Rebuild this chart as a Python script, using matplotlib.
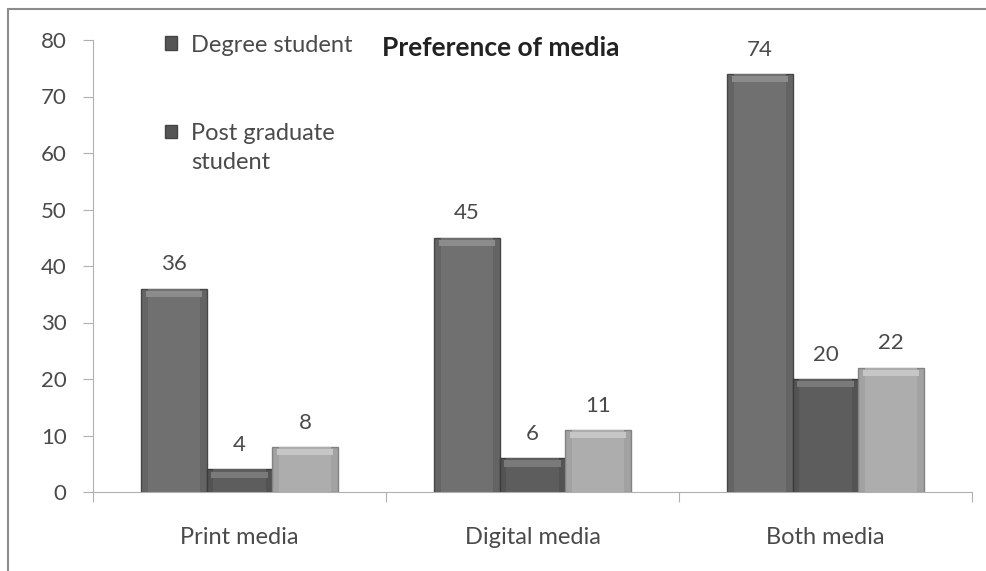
import numpy as np
import matplotlib.pyplot as plt
from matplotlib.patches import Rectangle

categories = ['Print media', 'Digital media', 'Both media']
degree = [36, 45, 74]
post_grad = [4, 6, 20]
third = [8, 11, 22]
series_names = ['Degree student', 'Post graduate']
yticks = [0, 10, 20, 30, 40, 50, 60, 70, 80]

plt.rcParams['font.family'] = ['Lato', 'DejaVu Sans']
txt = '#4a4a4a'

fig = plt.figure(figsize=(9.87, 5.71), dpi=100)
fig.patches.append(Rectangle((8 / 987, -0.1), 1.2, 1.0 - 9 / 571 + 0.1,
                             transform=fig.transFigure, fill=False,
                             edgecolor='#8c8c8c', linewidth=1.5))
ax = fig.add_axes([93 / 987, 1 - 492 / 571, (972 - 93) / 987, (492 - 40) / 571])

x = np.arange(len(categories))
w = 0.224
colors = ['#646464', '#535353', '#a2a2a2']
inner = ['#707070', '#5d5d5d', '#adadad']
tops = ['#8c8c8c', '#7a7a7a', '#c6c6c6']
edges = ['#474747', '#3b3b3b', '#828282']
series = [degree, post_grad, third]

for i, vals in enumerate(series):
    pos = x + (i - 1) * w
    ax.bar(pos, vals, w, color=colors[i], edgecolor=edges[i], linewidth=1.0,
           zorder=2, label=series_names[i] if i < 2 else None)
    # softer centre to imitate the rounded bevel
    ax.bar(pos, vals, w * 0.8, color=inner[i], linewidth=0, zorder=2.5)
    # highlight along the top
    ax.bar(pos, [1.1] * len(vals), w * 0.86, bottom=[v - 1.5 for v in vals],
           color=tops[i], linewidth=0, zorder=3)
    for p, v in zip(pos, vals):
        ax.text(p, v + 4.3, str(v), ha='center', va='center', fontsize=16, color=txt)

ax.set_xlim(-0.5, 2.5)
ax.set_ylim(0, 80)
ax.set_yticks(yticks)
ax.set_xticks([-0.5, 0.5, 1.5, 2.5], minor=False)
ax.set_xticklabels([])
ax.set_xticks(x, minor=True)
ax.set_xticklabels(categories, minor=True)
ax.tick_params(axis='x', which='minor', length=0, pad=25, labelsize=17, labelcolor=txt)
ax.tick_params(axis='x', which='major', length=7, direction='out', color='#b0b0b0')
ax.tick_params(axis='y', length=7, direction='out', color='#b0b0b0', labelsize=16,
               labelcolor=txt, pad=12)
for s in ['top', 'right']:
    ax.spines[s].set_visible(False)
for s in ['left', 'bottom']:
    ax.spines[s].set_color('#b0b0b0')

ax.text(0.464, 0.982, 'Preference of media', transform=ax.transAxes, ha='center',
        va='center', fontsize=19, fontweight='bold', color='#222222')

leg = ax.legend(loc='upper left', bbox_to_anchor=(0.082, 1.012), frameon=False,
                fontsize=17, labelcolor=txt, handlelength=0.5, handleheight=0.5,
                handletextpad=0.6, labelspacing=2.85, borderpad=0, borderaxespad=0)
for h in leg.legend_handles:
    h.set_facecolor('#555555')
    h.set_edgecolor('#444444')
# second line of the wrapped legend label
ax.annotate('student', xy=(0, 0), xycoords=leg.get_texts()[1], xytext=(0, -6),
            textcoords='offset points', ha='left', va='top', fontsize=17, color=txt,
            zorder=10)

fig.savefig('out.png', dpi=100, facecolor='white')
